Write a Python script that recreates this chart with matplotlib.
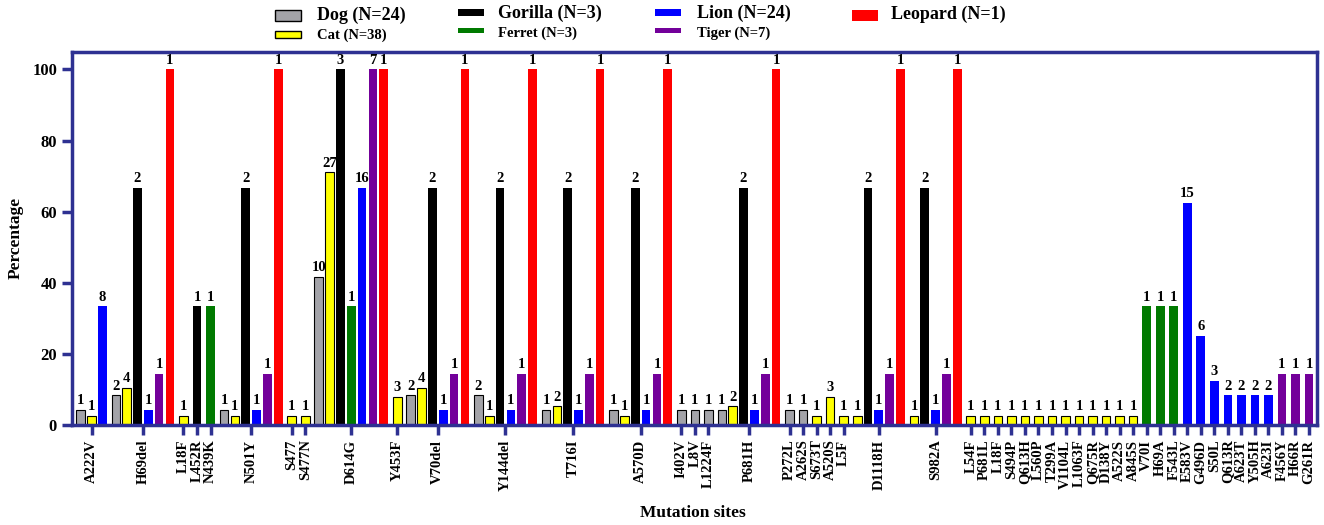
import matplotlib
matplotlib.use("Agg")
import matplotlib.pyplot as plt
from matplotlib.patches import Rectangle

# ─────────────────────────── Dados ────────────────────────────── #

species = ["Dog", "Cat", "Gorilla", "Ferret", "Lion", "Tiger", "Leopard"]
species_n = [24, 38, 3, 3, 24, 7, 1]
species_colors = ["#A3A3A8", "#FFFF00", "#000000", "#007A00", "#0000FF", "#73009A", "#FF0000"]

sites = [
    "A222V", "H69del", "L18F", "L452R", "N439K", "N501Y", "S477", "S477N",
    "D614G", "Y453F", "V70del", "Y144del", "T716I", "A570D", "I402V", "L8V",
    "L1224F", "P681H", "P272L", "A262S", "S673T", "A520S", "L5F", "D1118H",
    "S982A", "L54F", "P681L", "L18F", "S494P", "Q613H", "L560P", "T299A",
    "V1104L", "L1063F", "Q675R", "D138Y", "A522S", "A845S", "V70I", "H69A",
    "F543L", "E583V", "G496D", "S50L", "Q613R", "A623T", "Y505H", "A623I",
    "F456Y", "H66R", "G261R",
]

# espécies presentes em cada sítio (D=Dog, C=Cat, G=Gorilla, F=Ferret, L=Lion, T=Tiger, P=Leopard)
site_species = [
    "DCL", "DCGLTP", "C", "G", "F", "DCGLTP", "C", "C",
    "DCGFLTP", "C", "DCGLTP", "DCGLTP", "DCGLTP", "DCGLTP", "D", "D",
    "D", "DCGLTP", "D", "D", "C", "C", "C", "CGLTP",
    "CGLTP", "C", "C", "C", "C", "C", "C", "C",
    "C", "C", "C", "C", "C", "C", "F", "F",
    "F", "L", "L", "L", "L", "L", "L", "L",
    "T", "T", "T",
]

# número de amostras com a mutação (rótulo em cima de cada barra)
site_counts = [
    [1, 1, 8], [2, 4, 2, 1, 1, 1], [1], [1], [1], [1, 1, 2, 1, 1, 1], [1], [1],
    [10, 27, 3, 1, 16, 7, 1], [3], [2, 4, 2, 1, 1, 1], [2, 1, 2, 1, 1, 1],
    [1, 2, 2, 1, 1, 1], [1, 1, 2, 1, 1, 1], [1], [1],
    [1], [1, 2, 2, 1, 1, 1], [1], [1], [1], [3], [1], [1, 2, 1, 1, 1],
    [1, 2, 1, 1, 1], [1], [1], [1], [1], [1], [1], [1],
    [1], [1], [1], [1], [1], [1], [1], [1],
    [1], [15], [6], [3], [2], [2], [2], [2],
    [1], [1], [1],
]

CODE = {"D": 0, "C": 1, "G": 2, "F": 3, "L": 4, "T": 5, "P": 6}

NAVY = "#2E3192"
SERIF = "Liberation Serif"
plt.rcParams["font.family"] = SERIF
plt.rcParams["font.weight"] = "bold"

# ─────────────────────────── Figura ────────────────────────────── #

W, H = 1324, 525
fig = plt.figure(figsize=(W / 100, H / 100), dpi=100)
ax = fig.add_axes([71.7 / W, 1 - 425 / H, (1316.7 - 71.7) / W, (425 - 51.7) / H])

larg = 0.8
passo_grupo = 1.25
pos = 0.0
tick_pos = []
for i, (sp, cnts) in enumerate(zip(site_species, site_counts)):
    if i > 0:
        pos += passo_grupo - 1
    xs = []
    for code, c in zip(sp, cnts):
        k = CODE[code]
        pct = c / species_n[k] * 100
        edge = "black" if k in (0, 1) else species_colors[k]
        ax.bar(pos, pct, larg, color=species_colors[k], edgecolor=edge,
               linewidth=0.8 if k in (0, 1) else 0)
        ax.annotate(str(c), xy=(pos, pct), xytext=(0, 2), textcoords="offset points",
                    ha="center", va="bottom", fontsize=10.5, fontweight="bold")
        xs.append(pos)
        pos += 1
    tick_pos.append((xs[0] + xs[-1]) / 2)

ax.set_xlim(-0.83, tick_pos[-1] + 0.71)
ax.set_ylim(0, 105)
ax.set_yticks([0, 20, 40, 60, 80, 100])
ax.set_xticks(tick_pos)
ax.set_xticklabels(sites, rotation=90, fontsize=10.5, fontweight="bold")
ax.tick_params(axis="both", colors=NAVY, width=2.5, length=7, direction="out", labelcolor="black")
ax.tick_params(axis="y", labelsize=12)
for s in ax.spines.values():
    s.set_color(NAVY)
    s.set_linewidth(2.5)

ax.set_ylabel("Percentage", fontsize=12.5, fontweight="bold", labelpad=6)
fig.text(693 / W, 1 - 513 / H, "Mutation sites", ha="center", va="center",
         fontsize=12.5, fontweight="bold")

# ─────────────────────────── Legenda ────────────────────────────── #

def px_rect(x0, y0, x1, y1, cor, edge):
    r = Rectangle((x0 / W, 1 - y1 / H), (x1 - x0) / W, (y1 - y0) / H,
                  transform=fig.transFigure, facecolor=cor,
                  edgecolor=edge, linewidth=1.0 if edge != cor else 0)
    fig.add_artist(r)

legenda = [
    # (índice espécie, x patch, y0, y1, x texto, y texto, tamanho fonte)
    (0, 275, 9.5, 20.5, 317, 15, 13),
    (1, 275, 31, 38, 317, 35, 10.5),
    (2, 458, 9.5, 15.5, 498, 13.5, 13),
    (3, 458, 28.5, 32.5, 498, 33, 10.5),
    (4, 655, 9.5, 15.5, 697, 13.5, 13),
    (5, 655, 28.5, 32.5, 697, 33, 10.5),
    (6, 852, 9.5, 20.5, 891, 14, 13),
]
for k, xp, y0, y1, xt, yt, fs in legenda:
    edge = "black" if k in (0, 1) else species_colors[k]
    px_rect(xp, y0, xp + 26, y1, species_colors[k], edge)
    fig.text(xt / W, 1 - yt / H, f"{species[k]} (N={species_n[k]})",
             ha="left", va="center", fontsize=fs, fontweight="bold")

fig.savefig("out.png", dpi=100)
